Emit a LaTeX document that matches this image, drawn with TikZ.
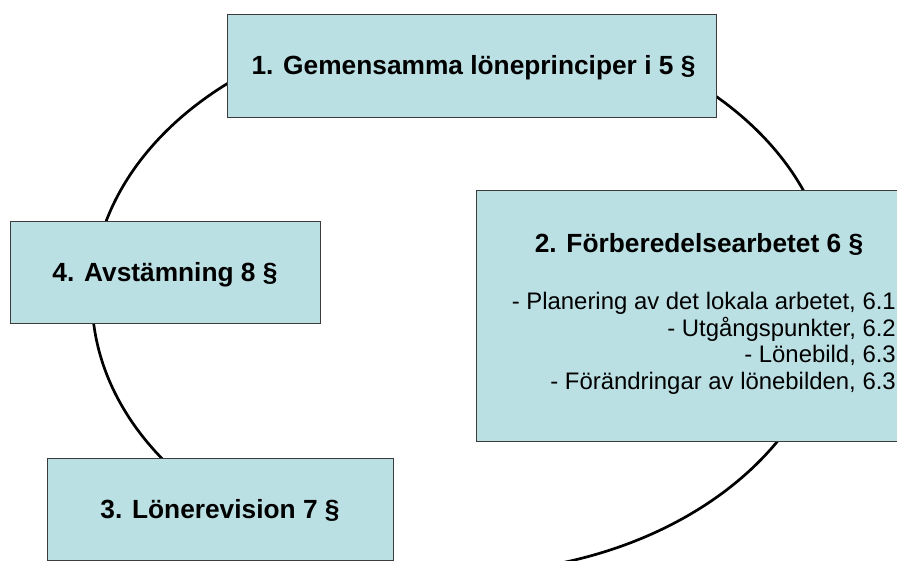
\documentclass[tikz,border=0pt]{standalone}
\usepackage{fontspec}
\setmainfont{Liberation Sans}
\usepackage{tikz}
\definecolor{boxfill}{RGB}{187,224,228}
\definecolor{boxline}{RGB}{60,60,60}
\tikzset{
  stagebox/.style={draw=boxline, line width=1pt, fill=boxfill, inner sep=0pt},
  stagetitle/.style={anchor=base, inner sep=0pt, font=\bfseries\fontsize{26.3}{30}\selectfont},
  stageitem/.style={anchor=base east, inner sep=0pt, font=\fontsize{23.9}{27}\selectfont}
}

\begin{document}
\begin{tikzpicture}[x=1pt,y=-1pt]
\useasboundingbox (0,0) rectangle (897,560);
\clip (0,0) rectangle (897,560);
\draw[black, line width=2.7pt] (462,297) ellipse [x radius=370pt, y radius=276pt];

\node[stagebox, minimum width=489pt, minimum height=103pt] (principles) at (471.5,65.5) {};
\node[stagetitle] (principlestitle) at (473.5,74) {1. Gemensamma löneprinciper i 5 §};

\node[stagebox, minimum width=446pt, minimum height=251pt] (prep) at (699,315.5) {};
\node[stagetitle] (preptitle) at (699,252) {2. Förberedelsearbetet 6 §};
\foreach \y/\t [count=\i] in {309/{- Planering av det lokala arbetet, 6.1},
    336/{- Utgångspunkter, 6.2},
    362/{- Lönebild, 6.3},
    389/{- Förändringar av lönebilden, 6.3}}
  \node[stageitem] (prepitem\i) at (896,\y) {\t};

\node[stagebox, minimum width=346pt, minimum height=102pt] (revision) at (220,509) {};
\node[stagetitle] (revisiontitle) at (220,518) {3. Lönerevision 7 §};

\node[stagebox, minimum width=310pt, minimum height=102pt] (check) at (165,272) {};
\node[stagetitle] (checktitle) at (165,281) {4. Avstämning 8 §};
\end{tikzpicture}
\end{document}
